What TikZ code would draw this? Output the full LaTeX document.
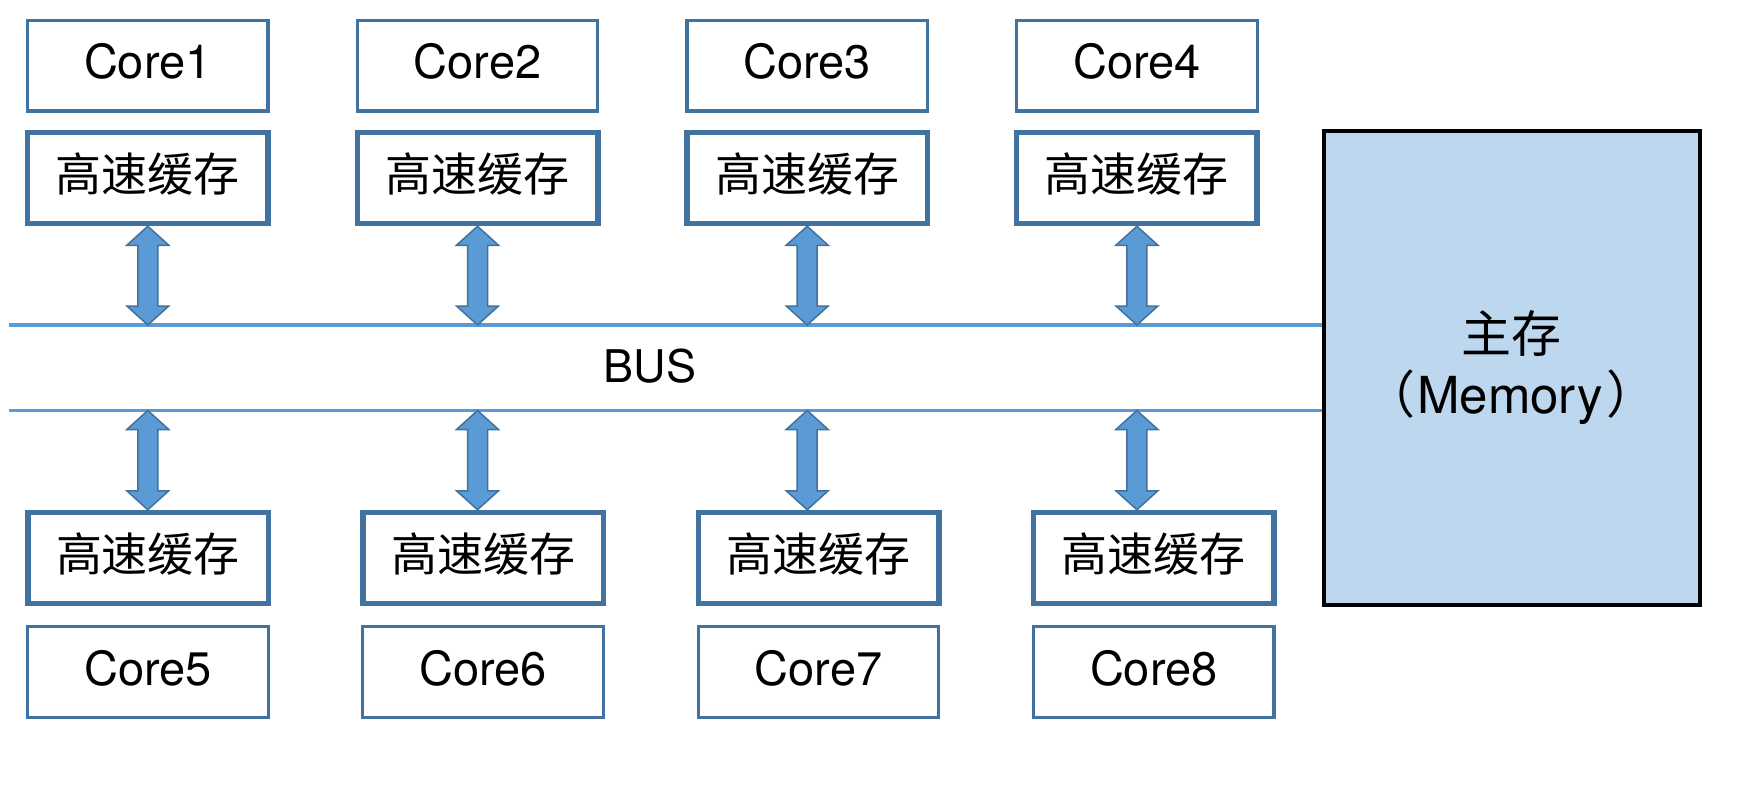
\documentclass[tikz,border=0pt]{standalone}
\usepackage{fontspec}
\setmainfont{TeX Gyre Heros}
\newfontfamily\cjk{Noto Sans CJK SC}
\usetikzlibrary{calc}
\definecolor{boxblue}{RGB}{66,114,160}
\definecolor{arrfill}{RGB}{91,155,213}
\definecolor{arrline}{RGB}{65,113,156}
\definecolor{memfill}{RGB}{189,215,238}
\tikzset{
  corebox/.style={draw=boxblue, line width=3.3pt, minimum width=240.5pt, minimum height=90.5pt, inner sep=0pt, font=\fontsize{47}{56}\selectfont, text height=34pt, text depth=8pt},
  cachebox/.style={draw=boxblue, line width=5.5pt, minimum width=240.5pt, minimum height=91pt, inner sep=0pt, font=\cjk\fontsize{46}{55}\selectfont, text height=37pt, text depth=11pt},
  busline/.style={draw=arrfill, line width=3.2pt},
  fatarrow/.style={fill=arrfill, draw=arrline, line width=1.5pt, line join=miter},
  lbl/.style={font=\fontsize{45}{54}\selectfont, inner sep=0pt},
  memlbl/.style={font=\fontsize{51}{60}\selectfont, inner sep=0pt},
  memtext/.style={font=\cjk\fontsize{50}{60}\selectfont, inner sep=0pt},
  membox/.style={draw=black, line width=4pt, fill=memfill, minimum width=376pt, minimum height=474.6pt, inner sep=0pt}
}
\newcommand\dblfat[2]{\filldraw[fatarrow] (#1) -- ($(#1)+(21,19)$) -- ($(#1)+(10,19)$) -- ($(#2)+(10,-19)$) -- ($(#2)+(21,-19)$) -- (#2) -- ($(#2)+(-21,-19)$) -- ($(#2)+(-10,-19)$) -- ($(#1)+(-10,19)$) -- ($(#1)+(-21,19)$) -- cycle;}
\begin{document}
\begin{tikzpicture}[x=1pt,y=-1pt]
\useasboundingbox (0,0) rectangle (1746,790);
% top row
\node[corebox] (core1) at (147.8,65.8) {Core1};
\node[corebox] (core2) at (477.5,65.8) {Core2};
\node[corebox] (core3) at (807.2,65.8) {Core3};
\node[corebox] (core4) at (1136.9,65.8) {Core4};
\node[cachebox] (cache1) at (147.8,178) {高速缓存};
\node[cachebox] (cache2) at (477.5,178) {高速缓存};
\node[cachebox] (cache3) at (807.2,178) {高速缓存};
\node[cachebox] (cache4) at (1136.9,178) {高速缓存};
% bottom row
\node[cachebox] (cache5) at (148,558) {高速缓存};
\node[cachebox] (cache6) at (483,558) {高速缓存};
\node[cachebox] (cache7) at (818.5,558) {高速缓存};
\node[cachebox] (cache8) at (1153.8,558) {高速缓存};
\node[corebox] (core5) at (148,672) {Core5};
\node[corebox] (core6) at (483,672) {Core6};
\node[corebox] (core7) at (818.5,672) {Core7};
\node[corebox] (core8) at (1153.8,672) {Core8};
% memory
\node[membox] (mem) at (1512,368) {};
\node[memtext] (memzh) at (1511,333) {主存};
\node[memlbl, anchor=base] (memen) at (1511,413) {{\cjk （}\hspace{2pt}Memory\hspace{4pt}{\cjk ）}};
% bus
\coordinate (busTL) at (9,325);
\coordinate (busBL) at (9,410.5);
\draw[busline] (busTL) -- (busTL -| mem.west);
\draw[busline] (busBL) -- (busBL -| mem.west);
\node[lbl] (bus) at (650,366.5) {BUS};
% arrows
\foreach \i/\j in {1/5,2/6,3/7,4/8} {
  \coordinate (ta\i) at (cache\i.south);
  \coordinate (tb\i) at (cache\i.south |- busTL);
  \coordinate (ba\i) at (cache\i.south |- busBL);
  \coordinate (bb\i) at (cache\i.south |- cache\j.north);
  \dblfat{ta\i}{tb\i}
  \dblfat{ba\i}{bb\i}
}
\end{tikzpicture}
\end{document}
